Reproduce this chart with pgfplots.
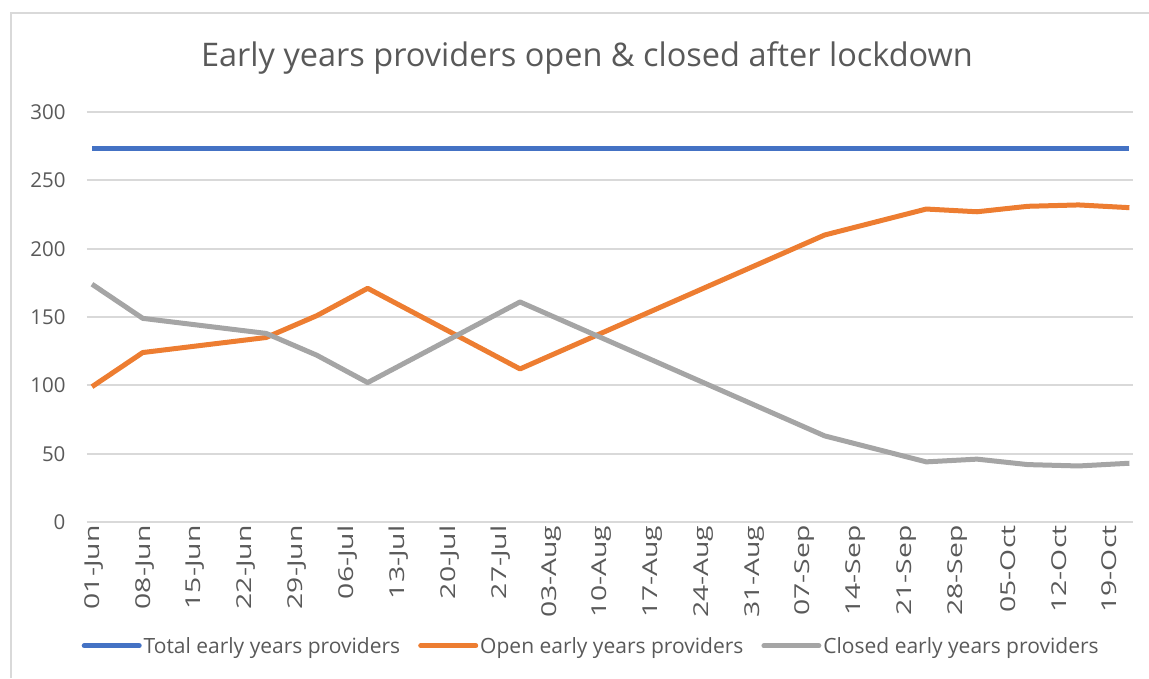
\documentclass[border=0pt]{standalone}
\usepackage{pgfplots}
\pgfplotsset{compat=1.18}
\usepackage{fontspec}
\setmainfont{Open Sans}
\newfontfamily\tickfont[FakeStretch=1.38]{Open Sans}
\definecolor{cblue}{HTML}{4472C4}
\definecolor{corange}{HTML}{ED7D31}
\definecolor{cgray}{HTML}{A5A5A5}
\definecolor{cgrid}{HTML}{D9D9D9}
\definecolor{ctext}{HTML}{595959}
\begin{document}
\begin{tikzpicture}
\path[use as bounding box] (0,0) rectangle (1149pt,678pt);
\draw[cgrid, line width=2pt] (11pt,0pt) -- (11pt,665pt) -- (1149pt,665pt);
\node[text=ctext, font=\fontsize{32.5}{38}\selectfont] at (587pt,620pt) {Early years providers open \& closed after lockdown};
\begin{axis}[
  at={(87pt,156pt)}, anchor=south west,
  scale only axis, width=1046pt, height=410pt,
  xmin=-0.69, xmax=143.5, ymin=0, ymax=300,
  ytick={0,50,...,300},
  xtick={0,7,...,140},
  xticklabels={01-Jun,08-Jun,15-Jun,22-Jun,29-Jun,06-Jul,13-Jul,20-Jul,27-Jul,03-Aug,10-Aug,17-Aug,24-Aug,31-Aug,07-Sep,14-Sep,21-Sep,28-Sep,05-Oct,12-Oct,19-Oct},
  x tick label style={rotate=90, anchor=east, font=\tickfont\fontsize{20.5}{24}\selectfont, text=ctext, yshift=-2pt},
  y tick label style={font=\fontsize{20.5}{24}\selectfont, text=ctext, xshift=-18pt},
  /pgf/number format/assume math mode=true,
  ymajorgrids, major grid style={cgrid, line width=2pt},
  axis line style={draw=none}, tick style={draw=none},
  legend columns=3,
  legend style={at={(0.482,-0.302)}, anchor=center, draw=none, fill=none,
    font=\fontsize{21}{25}\selectfont, text=ctext,
    /tikz/every even column/.append style={column sep=16pt},
    inner sep=0pt},
  legend image code/.code={\draw[#1, line cap=round] (0pt,0pt) -- (55pt,0pt);},
  every axis plot/.append style={line width=5pt, line join=round},
]
\addplot[cblue] coordinates {(0,273) (143,273)};
\addlegendentry{Total early years providers}
\addplot[corange] coordinates {(0,99) (7,124) (24,135) (31,151) (38,171) (59,112) (101,210) (115,229) (122,227) (129,231) (136,232) (143,230)};
\addlegendentry{Open early years providers}
\addplot[cgray] coordinates {(0,174) (7,149) (24,138) (31,122) (38,102) (59,161) (101,63) (115,44) (122,46) (129,42) (136,41) (143,43)};
\addlegendentry{Closed early years providers}
\end{axis}
\end{tikzpicture}
\end{document}
